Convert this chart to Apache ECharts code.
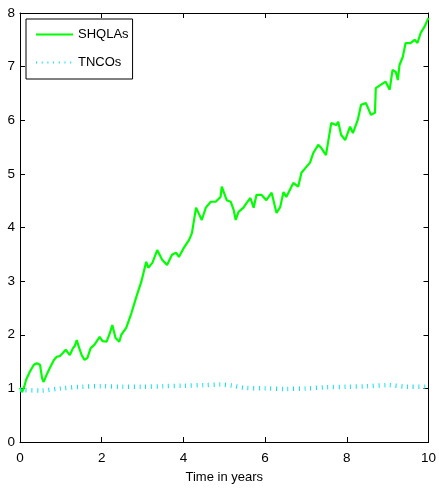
<!DOCTYPE html>
<html>
<head>
<meta charset="utf-8">
<script src="https://cdn.jsdelivr.net/npm/echarts@6/dist/echarts.min.js"></script>
<style>
  html, body { margin: 0; padding: 0; background: #fff; }
  #chart { width: 439px; height: 492px; }
</style>
</head>
<body>
<div id="chart"></div>
<script>
// Simulated paths over ten years
const shqlaTime = [0, 0.05, 0.10, 0.15, 0.24, 0.34, 0.41, 0.49, 0.54, 0.58, 0.66, 0.73, 0.83, 0.90, 0.97,
  1.05, 1.12, 1.22, 1.29, 1.34, 1.39, 1.45, 1.51, 1.58, 1.65, 1.73, 1.82, 1.95, 2.02, 2.12,
  2.19, 2.26, 2.34, 2.43, 2.48, 2.60, 2.73, 2.85, 2.97, 3.09, 3.14, 3.24, 3.36, 3.48, 3.60,
  3.72, 3.82, 3.89, 4.01, 4.14, 4.21, 4.31, 4.45, 4.55, 4.67, 4.79, 4.91, 4.94, 5.06, 5.16,
  5.23, 5.28, 5.35, 5.47, 5.55, 5.64, 5.72, 5.79, 5.91, 6.03, 6.16, 6.28, 6.37, 6.45, 6.52,
  6.69, 6.81, 6.89, 7.01, 7.10, 7.18, 7.30, 7.37, 7.49, 7.62, 7.74, 7.79, 7.86, 7.96, 8.08,
  8.15, 8.27, 8.35, 8.47, 8.59, 8.69, 8.71, 8.83, 8.95, 9.05, 9.12, 9.20, 9.25, 9.29, 9.37,
  9.44, 9.56, 9.66, 9.73, 9.81, 9.90, 10.0];
const shqlaValue = [1.01, 0.93, 1.02, 1.16, 1.31, 1.44, 1.47, 1.44, 1.19, 1.12, 1.27, 1.38, 1.53, 1.59, 1.60,
  1.66, 1.72, 1.62, 1.74, 1.79, 1.90, 1.75, 1.62, 1.53, 1.57, 1.75, 1.81, 1.96, 1.88, 1.87,
  2.01, 2.18, 1.94, 1.87, 2.00, 2.13, 2.41, 2.71, 2.99, 3.36, 3.25, 3.34, 3.58, 3.40, 3.30,
  3.49, 3.53, 3.45, 3.62, 3.77, 3.90, 4.37, 4.14, 4.37, 4.48, 4.48, 4.57, 4.76, 4.51, 4.48,
  4.33, 4.14, 4.29, 4.37, 4.46, 4.55, 4.37, 4.61, 4.61, 4.51, 4.65, 4.27, 4.38, 4.66, 4.57,
  4.83, 4.76, 5.02, 5.13, 5.21, 5.39, 5.54, 5.49, 5.35, 5.95, 5.91, 5.97, 5.73, 5.63, 5.88,
  5.76, 6.01, 6.29, 6.32, 6.10, 6.14, 6.60, 6.66, 6.72, 6.57, 6.94, 6.90, 6.75, 7.03, 7.18,
  7.44, 7.44, 7.50, 7.44, 7.63, 7.74, 7.91];

const tncoTime = [0, 0.5, 1.0, 1.5, 2.0, 2.5, 3.0, 3.5, 4.0, 4.5, 4.9, 5.2, 5.5, 6.0, 6.5, 7.0, 7.5, 8.0, 8.5, 9.0, 9.5, 10.0];
const tncoValue = [0.97, 0.96, 1.00, 1.03, 1.04, 1.03, 1.03, 1.04, 1.05, 1.06, 1.07, 1.05, 1.01, 1.00, 0.99, 1.00, 1.02, 1.03, 1.04, 1.06, 1.03, 1.03];

const seriesNames = ['SHQLAs', 'TNCOs'];
const xTicks = { min: 0, max: 10, step: 2 };
const yTicks = { min: 0, max: 8, step: 1 };
const xTitle = 'Time in years';

const zip = (xs, ys) => xs.map((x, i) => [x, ys[i]]);

const FONT = "'Liberation Sans', Arial, Helvetica, sans-serif";

// Plain value axis drawn as one side of the closed frame, ticks pointing inward
const boxAxis = (extra) => Object.assign({
  type: 'value',
  axisLine: { show: true, onZero: false, lineStyle: { color: '#000', width: 1 } },
  axisTick: { show: true, inside: true, length: 5, lineStyle: { color: '#000', width: 1 } },
  splitLine: { show: false },
  axisLabel: { show: false }
}, extra);

const chart = echarts.init(document.getElementById('chart'), null, { renderer: 'canvas' });
chart.setOption({
  animation: false,
  backgroundColor: '#fff',
  grid: { left: 20, right: 8, top: 13, bottom: 50, containLabel: false },
  xAxis: [
    boxAxis({
      position: 'bottom', min: xTicks.min, max: xTicks.max, interval: xTicks.step,
      axisLabel: { show: true, color: '#000', fontFamily: FONT, fontSize: 13.5, margin: 9 },
      name: xTitle, nameLocation: 'middle', nameGap: 29,
      nameTextStyle: { color: '#000', fontFamily: FONT, fontSize: 13 }
    }),
    boxAxis({ position: 'top', min: xTicks.min, max: xTicks.max, interval: xTicks.step })
  ],
  yAxis: [
    boxAxis({
      position: 'left', min: yTicks.min, max: yTicks.max, interval: yTicks.step,
      axisLabel: { show: true, color: '#000', fontFamily: FONT, fontSize: 13.5, margin: 5 }
    }),
    boxAxis({ position: 'right', min: yTicks.min, max: yTicks.max, interval: yTicks.step })
  ],
  legend: {
    data: seriesNames,
    orient: 'vertical',
    left: 26, top: 19,
    itemWidth: 37, itemHeight: 14, itemGap: 15,
    padding: [9, 4, 10, 9],
    backgroundColor: '#fff',
    borderColor: '#000', borderWidth: 1,
    itemStyle: { opacity: 0 },
    textStyle: { color: '#000', fontFamily: FONT, fontSize: 13 }
  },
  series: [
    {
      name: seriesNames[0], type: 'line', data: zip(shqlaTime, shqlaValue),
      symbol: 'none', showSymbol: false, color: '#00ff00',
      lineStyle: { color: '#00ff00', width: 2.2 }
    },
    {
      name: seriesNames[1], type: 'line', data: zip(tncoTime, tncoValue),
      symbol: 'none', showSymbol: false, smooth: 0.3, color: '#10e0ee',
      lineStyle: { color: '#10e0ee', width: 4.5, type: [1, 4.7], cap: 'butt' }
    }
  ]
});
</script>
</body>
</html>
